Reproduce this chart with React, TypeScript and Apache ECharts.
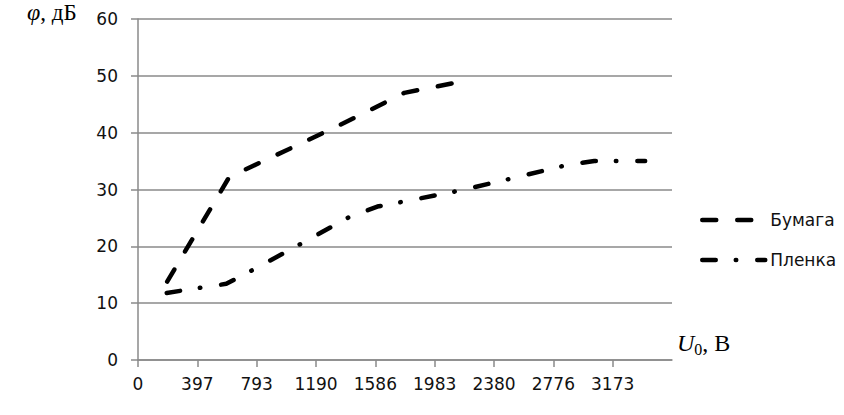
import React, { useEffect, useRef } from 'react';
import * as echarts from 'echarts';

// X axis (U0, V): tick step and tick labels as printed
const xTickStep = 396.6;
const xTickLabels = ['0', '397', '793', '1190', '1586', '1983', '2380', '2776', '3173'];
const xAxisMax = 3569.4;
// Y axis (phi, dB)
const yMin = 0;
const yMax = 60;
const yStep = 10;

// Series "Бумага"
const bumagaU = [195, 610, 1000, 1400, 1780, 2145];
const bumagaPhi = [13.8, 32.2, 37.0, 42.0, 47.0, 48.9];
// Series "Пленка"
const plenkaU = [192, 437, 590, 778, 1100, 1400, 1600, 1781, 2149, 2506, 2867, 3050, 3235, 3390];
const plenkaPhi = [11.8, 12.8, 13.4, 16.0, 20.6, 25.0, 27.0, 27.9, 29.8, 32.0, 34.3, 35.0, 35.0, 35.0];

const seriesNames = ['Бумага', 'Пленка'];

const zip = (xs: number[], ys: number[]) => xs.map((x, i) => [x, ys[i]]);

export default function App() {
  const ref = useRef<HTMLDivElement>(null);
  useEffect(() => {
    if (!ref.current) return;
    const chart = echarts.init(ref.current, null, { renderer: 'svg' });
    const tickValues = xTickLabels.map((_, i) => +(i * xTickStep).toFixed(1));
    const gray = '#8a8a8a';
    const labelFont = 'DejaVu Sans';
    const dashA = [14, 21];
    const dashB = [13.5, 20, 0.5, 21];
    const lineW = 4.5;
    chart.setOption({
      animation: false,
      backgroundColor: '#ffffff',
      grid: { left: 138, right: 172, top: 19, bottom: 55, containLabel: false },
      xAxis: {
        type: 'value',
        min: 0,
        max: xAxisMax,
        axisLine: { show: true, lineStyle: { color: gray, width: 1.5 } },
        axisTick: { show: true, length: 7, lineStyle: { color: gray, width: 1.5 }, customValues: tickValues },
        axisLabel: {
          customValues: tickValues,
          margin: 15,
          color: '#111',
          fontFamily: labelFont,
          fontSize: 17,
          formatter: (v: number) => {
            const idx = Math.round(v / xTickStep);
            return xTickLabels[idx] ?? '';
          },
        },
        splitLine: { show: false },
      },
      yAxis: {
        type: 'value',
        min: yMin,
        max: yMax,
        interval: yStep,
        axisLine: { show: true, lineStyle: { color: gray, width: 1.5 } },
        axisTick: { show: true, length: 7, lineStyle: { color: gray, width: 1.5 } },
        axisLabel: { margin: 20, color: '#111', fontFamily: labelFont, fontSize: 17 },
        splitLine: { show: true, lineStyle: { color: gray, width: 1.5 } },
      },
      legend: {
        orient: 'vertical',
        left: 695,
        top: 205,
        itemWidth: 63,
        itemHeight: 20,
        itemGap: 20,
        itemStyle: { opacity: 0 },
        data: [
          { name: seriesNames[0], lineStyle: { color: '#000', width: lineW, type: dashA, cap: 'round' } },
          { name: seriesNames[1], lineStyle: { color: '#000', width: lineW, type: dashB, cap: 'round' } },
        ],
        textStyle: { fontFamily: labelFont, fontSize: 17, color: '#111', lineHeight: 20 },
      },
      graphic: [
        {
          type: 'text',
          left: 27,
          top: 0,
          style: {
            text: '{i|φ}{n|, дБ}',
            rich: {
              i: { fontFamily: 'Liberation Serif', fontStyle: 'italic', fontSize: 24, fill: '#000', verticalAlign: 'bottom', lineHeight: 24 },
              n: { fontFamily: 'Liberation Serif', fontSize: 23, fill: '#000', verticalAlign: 'bottom', lineHeight: 24 },
            },
          },
        },
        {
          type: 'text',
          left: 677,
          top: 331,
          style: {
            text: '{i|U}{s|0}{n|, B}',
            rich: {
              i: { fontFamily: 'Liberation Serif', fontStyle: 'italic', fontSize: 24, fill: '#000', verticalAlign: 'bottom', lineHeight: 26 },
              s: { fontFamily: 'Liberation Serif', fontSize: 16, fill: '#000', verticalAlign: 'bottom', lineHeight: 22, padding: [0, 0, -2, 0] },
              n: { fontFamily: 'Liberation Serif', fontSize: 24, fill: '#000', verticalAlign: 'bottom', lineHeight: 26 },
            },
          },
        },
      ],
      series: [
        {
          name: seriesNames[0],
          type: 'line',
          data: zip(bumagaU, bumagaPhi),
          symbol: 'none',
          smooth: false,
          lineStyle: { color: '#000', width: lineW, type: dashA, cap: 'round', join: 'round' },
          itemStyle: { color: '#000' },
        },
        {
          name: seriesNames[1],
          type: 'line',
          data: zip(plenkaU, plenkaPhi),
          symbol: 'none',
          smooth: false,
          lineStyle: { color: '#000', width: lineW, type: dashB, cap: 'round', join: 'round' },
          itemStyle: { color: '#000' },
        },
      ],
    });
    return () => chart.dispose();
  }, []);
  return (
    <div
      ref={ref}
      style={{ position: 'fixed', left: 0, top: 0, width: 844, height: 415, background: '#fff' }}
    />
  );
}
